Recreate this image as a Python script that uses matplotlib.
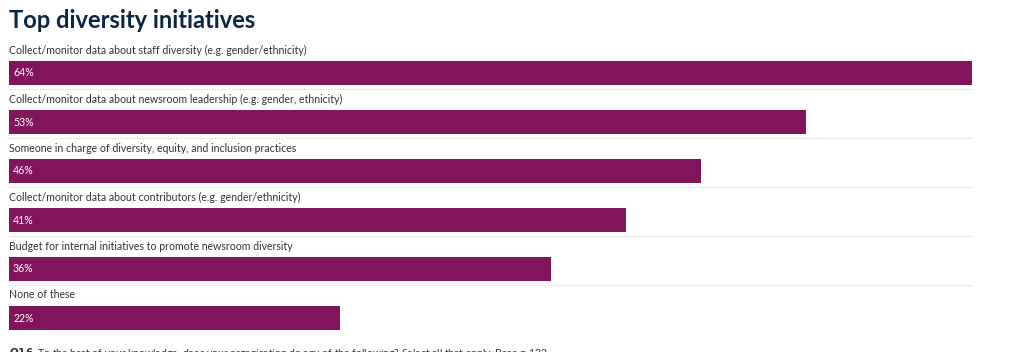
import matplotlib.pyplot as plt

labels = [
    "Collect/monitor data about staff diversity (e.g. gender/ethnicity)",
    "Collect/monitor data about newsroom leadership (e.g. gender, ethnicity)",
    "Someone in charge of diversity, equity, and inclusion practices",
    "Collect/monitor data about contributors (e.g. gender/ethnicity)",
    "Budget for internal initiatives to promote newsroom diversity",
    "None of these",
]
values = [64, 53, 46, 41, 36, 22]

bar_color = "#82145c"
title_color = "#0b2545"
plt.rcParams['font.family'] = ['Lato', 'DejaVu Sans']

W, H = 1016, 352
fig = plt.figure(figsize=(W / 100, H / 100), dpi=100)
ax = fig.add_axes([9 / W, 0, 963 / W, 1])
ax.set_xlim(0, 64)
ax.set_ylim(H, 0)
ax.axis("off")

step = 49
for i, (lab, v) in enumerate(zip(labels, values)):
    top = 61 + i * step
    ax.barh(top + 12, v, height=24, color=bar_color)
    ax.text(0, top - 11, lab, fontsize=7.6, color="#333333", va="center", ha="left")
    ax.text(0.27, top + 12, f"{v}%", fontsize=7.6, color="white", va="center", ha="left")
    # dotted separator between rows (none under the last one)
    if i < len(labels) - 1:
        ax.plot([0, 64], [top + 28, top + 28], color="#d0d0d0",
                linestyle=(0, (1, 1.5)), linewidth=0.8)

fig.text(9 / W, 1 - 21 / H, "Top diversity initiatives", fontsize=17, fontweight="bold",
         color=title_color, va="center", ha="left")

# source note, cut off by the bottom edge as in the original
fig.text(9 / W, 1 - 346 / H,
         r"$\bf{Q16}$. To the best of your knowledge, does your organisation do any of the following? Select all that apply. Base = 132",
         fontsize=7.5, color="#333333", va="top", ha="left")

fig.savefig("out.png", dpi=100)
